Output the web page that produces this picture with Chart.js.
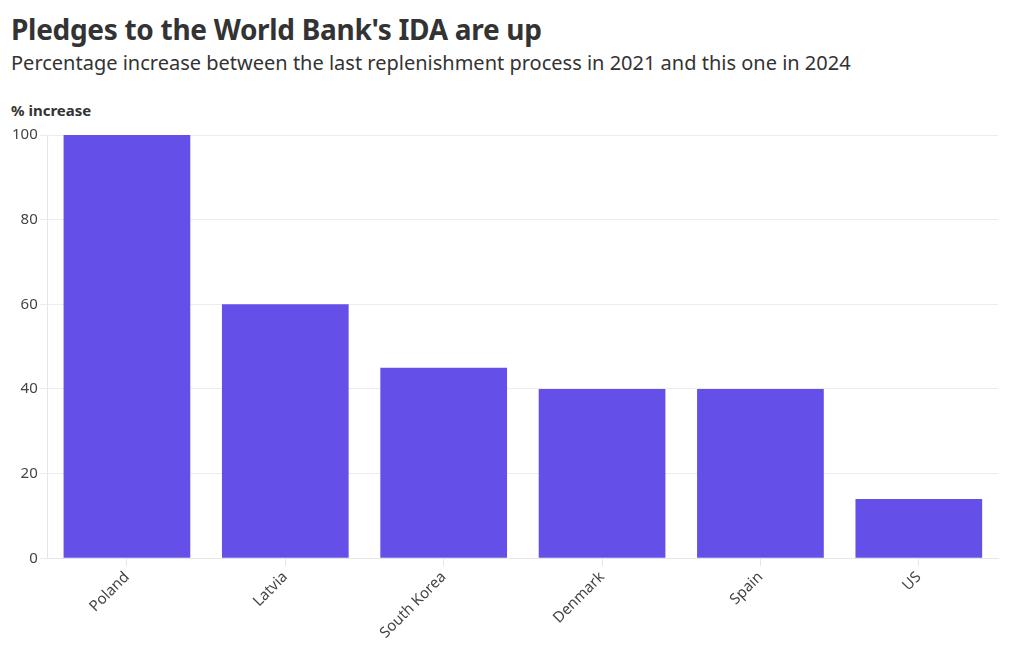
<!DOCTYPE html>
<html>
<head>
<meta charset="utf-8">
<script src="https://cdn.jsdelivr.net/npm/chart.js@4"></script>
<style>
  html, body { margin: 0; padding: 0; background: #fff; }
  body { width: 1020px; height: 650px; position: relative; overflow: hidden; font-family: "Source Sans Pro", "Noto Sans", "Open Sans", sans-serif; color: #333; }
  #title { position: absolute; left: 11px; top: 10px; font-size: 28px; font-weight: 700; color: #333; letter-spacing: -0.3px; }
  #subtitle { position: absolute; left: 11px; top: 49px; font-size: 20px; font-weight: 400; color: #333; }
  #ylabel { position: absolute; left: 11px; top: 100px; font-size: 15px; font-weight: 700; color: #333; }
  #wrap { position: absolute; left: 0; top: 120px; width: 1020px; height: 530px; }
</style>
</head>
<body>
<div id="title">Pledges to the World Bank's IDA are up</div>
<div id="subtitle">Percentage increase between the last replenishment process in 2021 and this one in 2024</div>
<div id="ylabel">% increase</div>
<div id="wrap"><canvas id="c"></canvas></div>
<script>
const categories = ["Poland", "Latvia", "South Korea", "Denmark", "Spain", "US"];
const increase = [100, 60, 45, 40, 40, 14];
const yTicks = [0, 20, 40, 60, 80, 100];

new Chart(document.getElementById('c'), {
  type: 'bar',
  data: {
    labels: categories,
    datasets: [{
      data: increase,
      backgroundColor: '#6450E8',
      borderWidth: 0,
      barPercentage: 0.8,
      categoryPercentage: 1.0
    }]
  },
  options: {
    responsive: true,
    maintainAspectRatio: false,
    animation: false,
    layout: { padding: { top: 15, right: 22, left: 10, bottom: 6 } },
    plugins: { legend: { display: false }, tooltip: { enabled: false } },
    scales: {
      x: {
        grid: { display: true, offset: false, drawOnChartArea: false, drawTicks: true, tickLength: 8, color: '#e6e6e6' },
        border: { display: true, color: '#e6e6e6' },
        ticks: { color: '#444', font: { family: '"Source Sans Pro", "Noto Sans", sans-serif', size: 15 }, maxRotation: 45, minRotation: 45, padding: 2 }
      },
      y: {
        min: 0, max: 100,
        afterBuildTicks: (axis) => { axis.ticks = yTicks.map(v => ({ value: v })); },
        grid: { color: '#ececec', drawTicks: true, tickLength: 8 },
        border: { display: true, color: '#e6e6e6' },
        ticks: { color: '#444', font: { family: '"Source Sans Pro", "Noto Sans", sans-serif', size: 15 }, padding: 2 }
      }
    }
  }
});
</script>
</body>
</html>
